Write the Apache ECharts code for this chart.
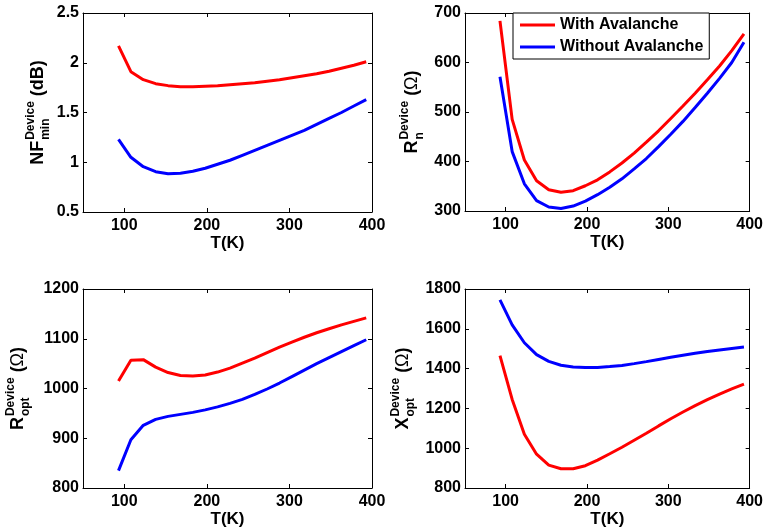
<!DOCTYPE html>
<html lang="en">

<head>
    <meta charset="UTF-8">
    <title>Device noise parameters vs T</title>
    <script src="https://cdn.jsdelivr.net/npm/echarts@6/dist/echarts.min.js"></script>
    <style>
        body { margin: 0; background: #fff; }
    </style>
</head>

<body>
    <div id="main" style="width: 766px;height:532px;"></div>
    <script type="text/javascript">

        // temperature points (K)
        const temps = [93, 108, 123, 138, 153, 168, 183, 198, 213, 228, 243, 258, 273, 288, 303, 318, 333, 348, 363, 378, 393];
        const xTicks = [100, 200, 300, 400];

        // NFmin (dB)
        const nfWith = [2.17, 1.91, 1.83, 1.79, 1.77, 1.76, 1.76, 1.765, 1.77, 1.78, 1.79, 1.80, 1.815, 1.83, 1.85, 1.87, 1.89, 1.915, 1.945, 1.975, 2.01];
        const nfWithout = [1.23, 1.05, 0.955, 0.905, 0.885, 0.89, 0.91, 0.94, 0.98, 1.02, 1.07, 1.12, 1.17, 1.22, 1.27, 1.32, 1.38, 1.44, 1.50, 1.565, 1.63];

        // Rn (ohm)
        const rnWith = [684, 485, 403, 361, 343, 338, 341, 351, 363, 379, 397, 417, 439, 462, 487, 512, 538, 565, 593, 624, 658];
        const rnWithout = [571, 420, 355, 321, 308, 305, 310, 320, 333, 348, 365, 385, 406, 430, 455, 481, 509, 538, 568, 600, 641];

        // Ropt (ohm)
        const roptWith = [1015, 1057, 1058, 1043, 1032, 1026, 1025, 1027, 1033, 1041, 1051, 1061, 1072, 1083, 1093, 1103, 1112, 1120, 1128, 1135, 1142];
        const roptWithout = [835, 897, 926, 938, 944, 948, 952, 957, 963, 970, 978, 988, 999, 1011, 1024, 1037, 1050, 1062, 1074, 1086, 1098];

        // Xopt (ohm)
        const xoptWith = [1465, 1245, 1070, 970, 915, 897, 897, 912, 940, 972, 1005, 1040, 1075, 1112, 1148, 1182, 1214, 1244, 1272, 1298, 1322];
        const xoptWithout = [1745, 1620, 1530, 1470, 1436, 1417, 1408, 1405, 1406, 1410, 1416, 1425, 1435, 1446, 1457, 1467, 1477, 1486, 1494, 1501, 1508];

        const seriesNames = ['With Avalanche', 'Without Avalanche'];
        const colors = ['#ff0000', '#0000ff'];

        const FONT = "'Liberation Sans', Arial, Helvetica, sans-serif";

        // 4 panels
        const panels = [
            { grid: { left: 83, top: 13, width: 289, height: 199 }, min: 0.5, max: 2.5, interval: 0.5, data: [nfWith, nfWithout],
              label: { base: 'NF', sup: 'Device', sub: 'min', unit: 'dB', x: 44 } },
            { grid: { left: 465, top: 13, width: 288, height: 198 }, min: 300, max: 700, interval: 100, data: [rnWith, rnWithout],
              label: { base: 'R', sup: 'Device', sub: 'n', unit: 'Ω', x: 418 } },
            { grid: { left: 83, top: 289, width: 289, height: 199 }, min: 800, max: 1200, interval: 100, data: [roptWith, roptWithout],
              label: { base: 'R', sup: 'Device', sub: 'opt', unit: 'Ω', x: 24 } },
            { grid: { left: 465, top: 289, width: 288, height: 199 }, min: 800, max: 1800, interval: 200, data: [xoptWith, xoptWithout],
              label: { base: 'X', sup: 'Device', sub: 'opt', unit: 'Ω', x: 409 } }
        ];

        // text width helper
        const cv = document.createElement('canvas').getContext('2d');
        function tw(text, size, weight) {
            cv.font = weight + ' ' + size + 'px ' + FONT;
            return cv.measureText(text).width;
        }

        // rotated y label with super/subscript
        function yLabel(lb, cy) {
            const big = 18, small = 12;
            const wBase = tw(lb.base, big, 'bold');
            const wSS = Math.max(tw(lb.sup, small, 'bold'), tw(lb.sub, small, 'bold'));
            const wSp = tw(' ', big, 'bold');
            const wOpen = tw('(', big, 'bold');
            const unitW = lb.unit === 'Ω' ? tw('Ω', big, 'normal') : tw(lb.unit, big, 'bold');
            const wClose = tw(')', big, 'bold');
            const total = wBase + 1 + wSS + wSp + wOpen + unitW + wClose;
            let x = -total / 2;
            const kids = [];
            function add(text, px, py, size, weight) {
                kids.push({
                    type: 'text', x: px, y: py,
                    style: { text: text, fill: '#000', fontSize: size, fontWeight: weight, fontFamily: FONT,
                             align: 'left', verticalAlign: 'middle', textAlign: 'left', textVerticalAlign: 'middle' }
                });
            }
            add(lb.base, x, -6, big, 'bold'); x += wBase + 1;
            add(lb.sup, x, -13, small, 'bold');
            add(lb.sub, x, 2, small, 'bold'); x += wSS + wSp;
            add('(', x, -6, big, 'bold'); x += wOpen;
            add(lb.unit, x, -6, big, lb.unit === 'Ω' ? 'normal' : 'bold'); x += unitW;
            add(')', x, -6, big, 'bold');
            return { type: 'group', x: lb.x, y: cy, rotation: Math.PI / 2, children: kids };
        }

        const axisLine = { show: true, onZero: false, lineStyle: { color: '#000', width: 1 } };
        const labelStyle = { color: '#000', fontSize: 16, fontWeight: 'bold', fontFamily: FONT,
                             formatter: function (v) { return String(v); } };

        const grid = [], xAxis = [], yAxis = [], series = [], graphic = [];

        panels.forEach(function (p, i) {
            grid.push(p.grid);
            // bottom x axis
            xAxis.push({
                type: 'value', gridIndex: i, position: 'bottom', min: 50, max: 400,
                name: 'T(K)', nameLocation: 'middle', nameGap: 20,
                nameTextStyle: { color: '#000', fontSize: 17, fontWeight: 'bold', fontFamily: FONT },
                axisLine: axisLine,
                axisTick: { show: true, inside: true, length: 4, customValues: xTicks, lineStyle: { color: '#000' } },
                axisLabel: Object.assign({ margin: 6, customValues: xTicks }, labelStyle),
                splitLine: { show: false }
            });
            // top x axis (box + ticks)
            xAxis.push({
                type: 'value', gridIndex: i, position: 'top', min: 50, max: 400,
                axisLine: axisLine,
                axisTick: { show: true, inside: true, length: 4, customValues: xTicks, lineStyle: { color: '#000' } },
                axisLabel: { show: false },
                splitLine: { show: false }
            });
            yAxis.push({
                type: 'value', gridIndex: i, position: 'left', min: p.min, max: p.max, interval: p.interval,
                axisLine: axisLine,
                axisTick: { show: true, inside: true, length: 4, lineStyle: { color: '#000' } },
                axisLabel: Object.assign({ margin: 4 }, labelStyle),
                splitLine: { show: false }
            });
            yAxis.push({
                type: 'value', gridIndex: i, position: 'right', min: p.min, max: p.max, interval: p.interval,
                axisLine: axisLine,
                axisTick: { show: true, inside: true, length: 4, lineStyle: { color: '#000' } },
                axisLabel: { show: false },
                splitLine: { show: false }
            });
            p.data.forEach(function (vals, k) {
                series.push({
                    name: seriesNames[k], type: 'line',
                    xAxisIndex: i * 2, yAxisIndex: i * 2,
                    data: temps.map(function (t, j) { return [t, vals[j]]; }),
                    showSymbol: false, symbol: 'none',
                    lineStyle: { color: colors[k], width: 3 },
                    itemStyle: { color: colors[k] },
                    z: 3
                });
            });
            graphic.push(yLabel(p.label, p.grid.top + p.grid.height / 2));
        });

        var myChart = echarts.init(document.getElementById('main'));
        option = {
            backgroundColor: '#fff',
            animation: false,
            grid: grid,
            xAxis: xAxis,
            yAxis: yAxis,
            legend: {
                data: seriesNames,
                orient: 'vertical',
                left: 513, top: 13,
                padding: [3, 6, 3, 7],
                itemGap: 4,
                itemWidth: 35, itemHeight: 3,
                icon: 'rect',
                backgroundColor: '#fff',
                borderColor: '#000', borderWidth: 1,
                textStyle: { color: '#000', fontSize: 16, fontWeight: 'bold', fontFamily: FONT, lineHeight: 18 }
            },
            graphic: graphic,
            series: series
        };

        myChart.setOption(option);

    </script>
</body>

</html>
